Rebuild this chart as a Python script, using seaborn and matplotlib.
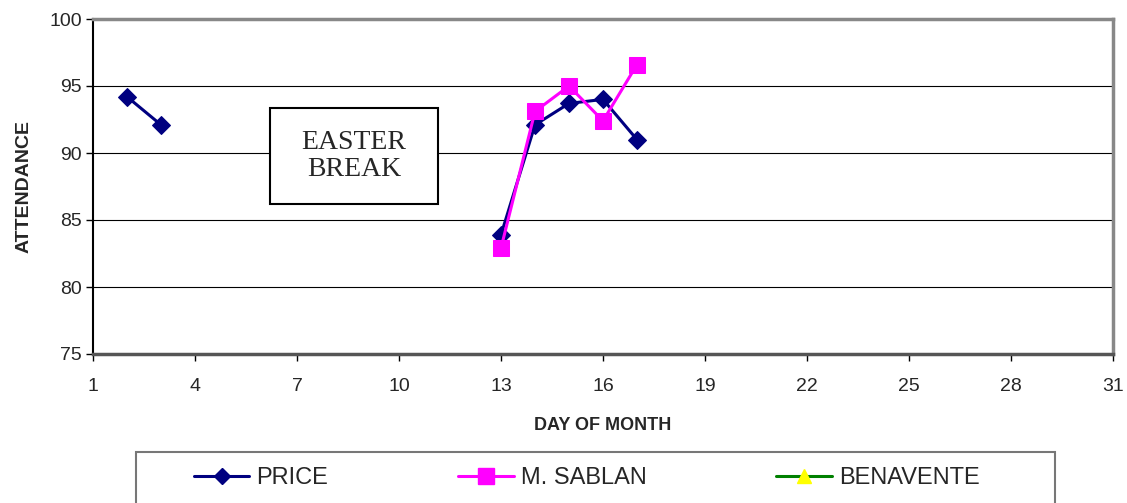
import matplotlib
matplotlib.use("Agg")
import matplotlib.pyplot as plt
from matplotlib.lines import Line2D
from matplotlib.patches import Rectangle
import seaborn as sns
import pandas as pd

# data (days with no entry are simply missing)
price_days = [2, 3, 13, 14, 15, 16, 17]
price_vals = [94.2, 92.1, 83.9, 92.1, 93.7, 94.0, 91.0]
price_seg = [0, 0, 1, 1, 1, 1, 1]
sablan_days = [13, 14, 15, 16, 17]
sablan_vals = [82.9, 93.1, 95.0, 92.4, 96.6]
sablan_seg = [1, 1, 1, 1, 1]
series_names = ["PRICE", "M. SABLAN", "BENAVENTE"]
series_colors = ["#000080", "#FF00FF", "#008000"]
x_ticks = list(range(1, 32, 3))
y_ticks = [75, 80, 85, 90, 95, 100]

sns.set_style("white")
plt.rcParams["font.family"] = ["Liberation Sans", "DejaVu Sans"]

price = pd.DataFrame({"day": price_days, "att": price_vals, "seg": price_seg})
sablan = pd.DataFrame({"day": sablan_days, "att": sablan_vals, "seg": sablan_seg})

W, H = 1127, 503
fig = plt.figure(figsize=(W / 100, H / 100), dpi=100)
ax = fig.add_axes([93 / W, 1 - 354 / H, (1113 - 93) / W, (354 - 19) / H])

# grid first so lines sit on top
for y in y_ticks[1:-1]:
    ax.axhline(y, color="black", lw=0.8, zorder=0)

sns.lineplot(data=price, x="day", y="att", units="seg", estimator=None,
             color=series_colors[0], lw=2.2, marker="D", markersize=9.5,
             markeredgecolor=series_colors[0], ax=ax, zorder=3)
sns.lineplot(data=sablan, x="day", y="att", units="seg", estimator=None,
             color=series_colors[1], lw=2.2, marker="s", markersize=12,
             markeredgecolor=series_colors[1], ax=ax, zorder=4)

ax.set_xlim(1, 31)
ax.set_ylim(75, 100)
ax.set_xticks(x_ticks)
ax.set_yticks(y_ticks)
ax.tick_params(axis="x", labelsize=14, length=5, width=1, direction="out", pad=12, color="black", bottom=True)
ax.tick_params(axis="y", labelsize=14, length=5, width=1, direction="out", pad=3, color="black", left=True)

ax.spines["left"].set_color("black")
ax.spines["left"].set_linewidth(1.5)
ax.spines["bottom"].set_color("#555555")
ax.spines["bottom"].set_linewidth(2.5)
ax.spines["top"].set_color("#888888")
ax.spines["top"].set_linewidth(2.5)
ax.spines["right"].set_color("#888888")
ax.spines["right"].set_linewidth(2.5)

ax.set_xlabel("DAY OF MONTH", fontsize=13, fontweight="bold", labelpad=16)
ax.set_ylabel("ATTENDANCE", fontsize=14, fontweight="bold", labelpad=12)

# EASTER BREAK note
ax.add_patch(Rectangle((6.2, 86.2), 4.95, 7.15, facecolor="white",
                       edgecolor="black", lw=1.5, zorder=2))
ax.text(8.68, 89.8, "EASTER\nBREAK", ha="center", va="center", fontsize=20,
        family=["Liberation Serif", "DejaVu Serif"], linespacing=1.1, zorder=3)

# legend box runs off the bottom edge of the picture
fig.patches.append(Rectangle((136 / W, -0.05), (1055 - 136) / W, 0.05 + 1 - 452 / H,
                             transform=fig.transFigure, facecolor="white",
                             edgecolor="#777777", lw=1.5))
handles = [
    Line2D([], [], color=series_colors[0], lw=2.2, marker="D", markersize=8),
    Line2D([], [], color=series_colors[1], lw=2.2, marker="s", markersize=11),
    Line2D([], [], color=series_colors[2], lw=2.2, marker="^", markersize=10,
           markerfacecolor="#FFFF00", markeredgecolor="#FFFF00"),
]
fig.legend(handles, series_names, loc="center left", ncol=3,
           bbox_to_anchor=(194 / W, 1 - 478 / H), fontsize=17, frameon=False,
           handlelength=2.35, handletextpad=0.3, columnspacing=5.5,
           borderpad=0, borderaxespad=0)

fig.savefig("out.png", dpi=100)
